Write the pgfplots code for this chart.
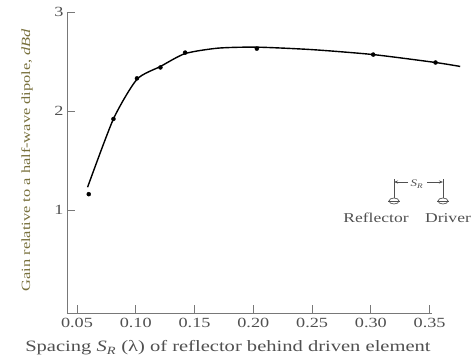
\documentclass[border=0pt]{standalone}
\usepackage{fontspec}
\setmainfont{Liberation Serif}[FakeStretch=1.3]
\usepackage{pgfplots}
\pgfplotsset{compat=1.18}
\usetikzlibrary{arrows.meta}
\definecolor{axgray}{RGB}{120,120,120}
\definecolor{txtgray}{RGB}{80,80,80}
\definecolor{olivelab}{RGB}{120,112,60}
\begin{document}
\begin{tikzpicture}
\useasboundingbox (0pt,0pt) rectangle (475pt,360pt);
\begin{axis}[
  at={(67pt,47pt)}, anchor=south west,
  scale only axis, width=365pt, height=301pt,
  xmin=0.0415, xmax=0.352, ymin=-0.04, ymax=3,
  axis lines=left, axis line style={-, axgray, line width=0.8pt},
  clip=false,
  xtick={0.05,0.1,0.15,0.2,0.25,0.3,0.35},
  xticklabels={0.05,0.10,0.15,0.20,0.25,0.30,0.35},
  ytick={1,2,3},
  tick align=inside, major tick length=8pt,
  tick style={axgray, line width=0.8pt},
  ticklabel style={font=\fontsize{14}{16}\selectfont, text=txtgray},
  xticklabel style={yshift=-2pt},
  /pgf/number format/assume math mode=true,
  xlabel={Spacing \textit{S}\textsubscript{\textit{R}} (λ) of reflector behind driven element},
  ylabel={Gain relative to a half-wave dipole, \textit{dBd}},
  every axis x label/.style={at={(axis description cs:0.441,0)}, yshift=-35pt, anchor=center,
     font=\fontsize{15.8}{18}\selectfont, text=txtgray},
  every axis y label/.style={at={(axis description cs:0,0.508)}, xshift=-40pt, anchor=center,
     rotate=90, font=\fontsize{12.6}{14}\selectfont, text=olivelab},
]
\addplot[black, line width=1.4pt, smooth, tension=0.4] coordinates {
  (0.059,1.23) (0.081,1.92) (0.101,2.32) (0.121,2.45) (0.142,2.58)
  (0.17,2.635) (0.203,2.645) (0.25,2.62) (0.302,2.57) (0.355,2.49) (0.376,2.45)
};
\addplot[only marks, mark=*, mark size=2pt, black] coordinates {
  (0.060,1.16) (0.081,1.92) (0.101,2.33) (0.121,2.44) (0.142,2.59)
  (0.203,2.63) (0.302,2.57) (0.355,2.49)
};
\end{axis}
% inset diagram
\begin{scope}[txtgray, line width=0.7pt]
  \draw (394pt,181pt) -- (394pt,162pt);
  \draw (443pt,181pt) -- (443pt,162pt);
  \draw[-{Stealth[length=4pt]}] (408pt,178pt) -- (394pt,178pt);
  \draw[-{Stealth[length=4pt]}] (427pt,178pt) -- (443pt,178pt);
  \node[font=\fontsize{10}{12}\selectfont] at (417pt,176pt) {\textit{S}\textsubscript{\textit{R}}};
  \draw (394pt,159pt) ellipse (5pt and 3pt);
  \draw (443pt,159pt) ellipse (5pt and 3pt);
  \draw (388pt,159pt) -- (400pt,159pt);
  \draw (437pt,159pt) -- (449pt,159pt);
  \node[font=\fontsize{13.5}{15}\selectfont] at (376pt,142pt) {Reflector};
  \node[font=\fontsize{13.5}{15}\selectfont] at (448pt,142pt) {Driver};
\end{scope}
\end{tikzpicture}
\end{document}
